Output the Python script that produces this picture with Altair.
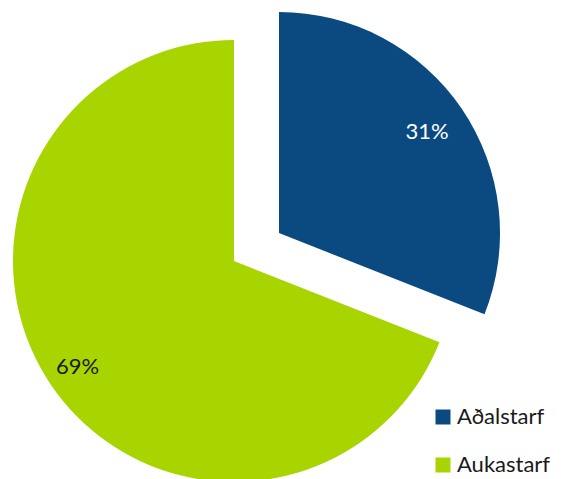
import altair as alt
import pandas as pd

categories = ["Aðalstarf", "Aukastarf"]
values = [31, 69]
labels = ["31%", "69%"]
order = [0, 1]
colors = ["#0A4A80", "#A8D500"]

df = pd.DataFrame({"cat": categories, "val": values, "lab": labels, "ord": order})

W, H = 550, 471
CX, CY = 226, 253
R = 221
EX, EY = 45, -28
FONT = "Lato"

theta_scale = alt.Scale(domain=[0, 100], range=[0, 6.283185307179586])

base = alt.Chart(df).transform_window(
    cum="sum(val)", sort=[alt.SortField("ord")], frame=[None, 0]
).transform_calculate(
    start="datum.cum - datum.val", mid="datum.cum - datum.val / 2"
)

color = alt.Color(
    "cat:N",
    scale=alt.Scale(domain=categories, range=colors),
    legend=alt.Legend(
        title=None,
        orient="none",
        legendX=424,
        legendY=398,
        symbolType="square",
        symbolSize=225,
        symbolStrokeWidth=0,
        labelFont=FONT,
        labelFontSize=22,
        labelColor="#1a1a1a",
        labelOffset=3,
        rowPadding=26,
    ),
)

green = base.transform_filter("datum.cat == 'Aukastarf'").mark_arc(radius=R).encode(
    theta=alt.Theta("start:Q", scale=theta_scale),
    theta2="cum:Q",
    color=color,
    x=alt.value(CX),
    y=alt.value(CY),
)

blue = base.transform_filter("datum.cat == 'Aðalstarf'").mark_arc(radius=R).encode(
    theta=alt.Theta("start:Q", scale=theta_scale),
    theta2="cum:Q",
    color=color,
    x=alt.value(CX + EX),
    y=alt.value(CY + EY),
)

blue_text = base.transform_filter("datum.cat == 'Aðalstarf'").mark_text(
    radius=179, font=FONT, fontSize=22, color="white"
).encode(
    theta=alt.Theta("mid:Q", scale=theta_scale),
    text="lab:N",
    x=alt.value(CX + EX),
    y=alt.value(CY + EY),
)

green_text = base.transform_filter("datum.cat == 'Aukastarf'").mark_text(
    radius=189, font=FONT, fontSize=22, color="#1a1a1a"
).encode(
    theta=alt.Theta("mid:Q", scale=theta_scale),
    text="lab:N",
    x=alt.value(CX),
    y=alt.value(CY),
)

chart = alt.layer(green, blue, blue_text, green_text).properties(
    width=W, height=H, padding=0, autosize=alt.AutoSizeParams(type="none")
).configure_view(stroke=None)

chart.save("out.html", embed_options={"renderer": "svg", "actions": False})
